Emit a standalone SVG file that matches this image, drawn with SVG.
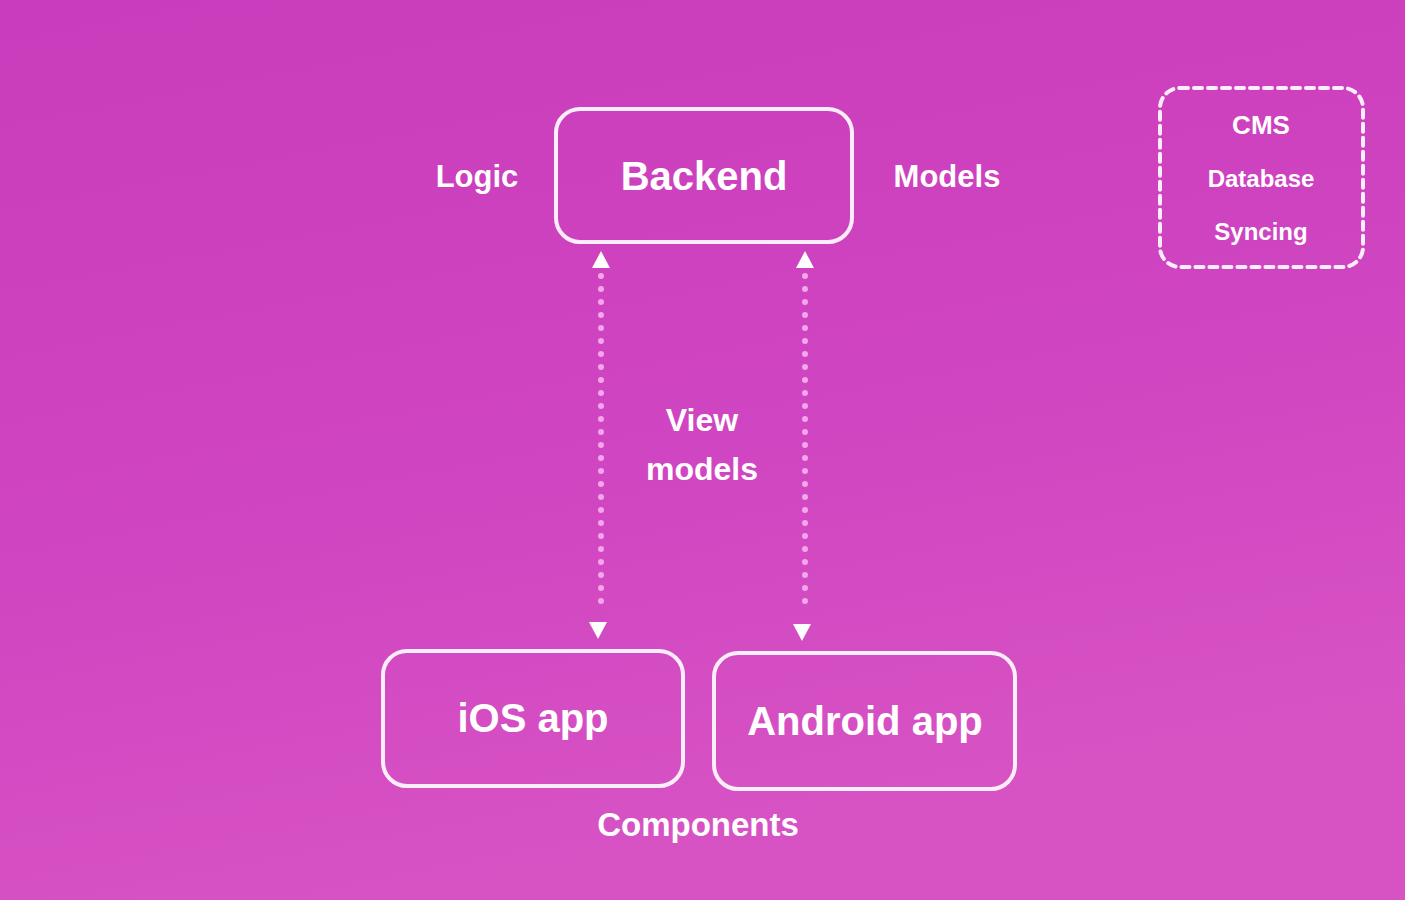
<svg xmlns="http://www.w3.org/2000/svg" width="1405" height="900" viewBox="0 0 1405 900">
  <defs>
    <linearGradient id="bg" x1="0" y1="0" x2="0.3" y2="1">
      <stop offset="0" stop-color="#c93cbb"/>
      <stop offset="0.6" stop-color="#d045c1"/>
      <stop offset="1" stop-color="#d753c4"/>
    </linearGradient>
  </defs>
  <style>
    .box { fill: none; stroke: #fbeefa; stroke-width: 4; }
    .dash { fill: none; stroke: #fbeefa; stroke-width: 4; stroke-dasharray: 8 6; stroke-linecap: round; }
    .t { font-family: "Liberation Sans", Arial, sans-serif; font-weight: bold; fill: #ffffff; text-anchor: middle; }
    .big { font-size: 40px; }
    .mid { font-size: 31px; }
    .sm { font-size: 25px; }
    .dots { stroke: #f3a6ec; stroke-width: 6; stroke-linecap: round; stroke-dasharray: 0 13; fill: none; }
    .head { fill: #ffffff; }
  </style>
  <rect x="0" y="0" width="1405" height="900" fill="url(#bg)"/>

  <g id="backend">
    <rect class="box" x="556" y="109" width="296" height="133" rx="24"/>
    <text class="t big" x="704" y="190">Backend</text>
  </g>
  <g id="logic-label"><text class="t mid" x="477" y="187">Logic</text></g>
  <g id="models-label"><text class="t mid" x="947" y="187">Models</text></g>

  <g id="services">
    <rect class="dash" x="1160" y="88" width="203" height="179" rx="20"/>
    <text class="t" x="1261" y="134" style="font-size:26px">CMS</text>
    <text class="t" x="1261" y="187" style="font-size:24px">Database</text>
    <text class="t" x="1261" y="240" style="font-size:24px">Syncing</text>
  </g>

  <g id="connectors">
    <line class="dots" x1="601" y1="276" x2="601" y2="614"/>
    <path class="head" d="M601,251 L610,268 L592,268 Z"/>
    <path class="head" d="M598,639 L607,622 L589,622 Z"/>
    <line class="dots" x1="805" y1="276" x2="805" y2="614"/>
    <path class="head" d="M805,251 L814,268 L796,268 Z"/>
    <path class="head" d="M802,641 L811,624 L793,624 Z"/>
  </g>

  <g id="viewmodels-label">
    <text class="t" x="702" y="431" style="font-size:32px">View</text>
    <text class="t" x="702" y="480" style="font-size:32px">models</text>
  </g>

  <g id="ios">
    <rect class="box" x="383" y="651" width="300" height="135" rx="24"/>
    <text class="t big" x="533" y="732">iOS app</text>
  </g>
  <g id="android">
    <rect class="box" x="714" y="653" width="301" height="136" rx="24"/>
    <text class="t big" x="865" y="735">Android app</text>
  </g>
  <g id="components-label"><text class="t" x="698" y="836" style="font-size:33px">Components</text></g>
</svg>
